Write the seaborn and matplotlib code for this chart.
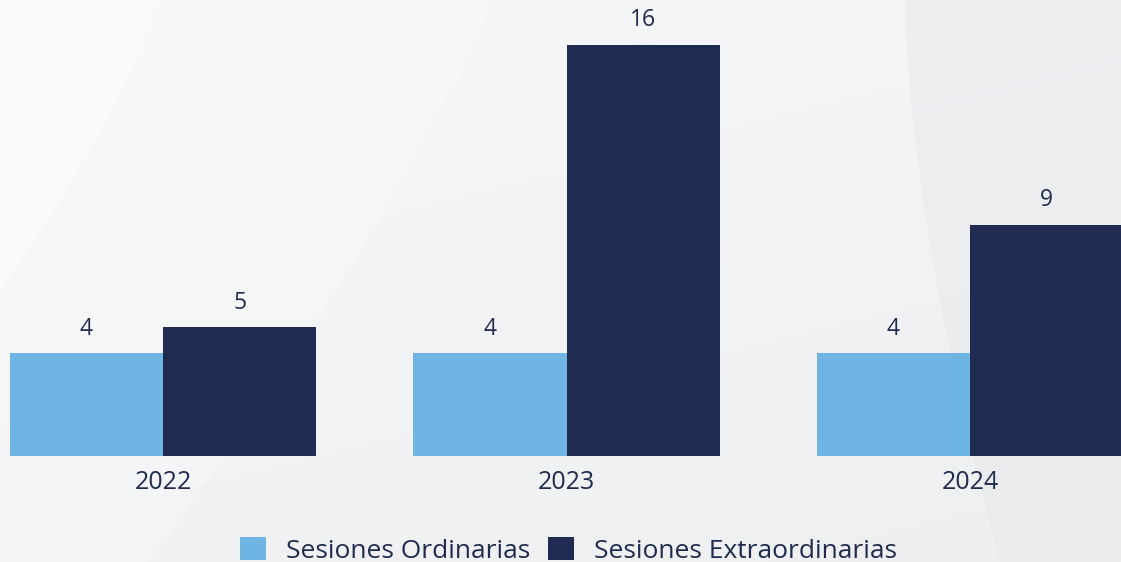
import numpy as np
import pandas as pd
import matplotlib
matplotlib.use("Agg")
import matplotlib.pyplot as plt
from matplotlib.patches import Patch, Polygon
import seaborn as sns

# Data
years = ["2022", "2023", "2024"]
ordinarias = [4, 4, 4]
extraordinarias = [5, 16, 9]
series_names = ["Sesiones Ordinarias", "Sesiones Extraordinarias"]
colors = ["#6fb5e3", "#1f2b50"]
text_color = "#1f2b4f"

df = pd.DataFrame({
    "year": years * 2,
    "value": ordinarias + extraordinarias,
    "serie": [series_names[0]] * 3 + [series_names[1]] * 3,
})

sns.set_theme(style="white")
plt.rcParams["font.family"] = ["Open Sans", "DejaVu Sans"]

W, H = 1121, 562
fig = plt.figure(figsize=(W / 100, H / 100), dpi=100)

# Soft grey background with pale diagonal swooshes
bg = fig.add_axes([0, 0, 1, 1], zorder=0)
bg.set_xlim(0, W)
bg.set_ylim(H, 0)
bg.axis("off")
yy, xx = np.mgrid[0:H, 0:W]
base = 0.955 - 0.02 * (yy / H) + 0.01 * (1 - xx / W)
bg.imshow(np.dstack([base, base + 0.003, base + 0.008]).clip(0, 1),
          extent=[0, W, H, 0], aspect="auto")
t = np.linspace(0, 1, 60)
# left pale band
left_edge = np.c_[155 - 160 * t ** 1.3, t * 300]
bg.add_patch(Polygon(np.vstack([[[0, 0]], left_edge]), closed=True,
                     facecolor="white", alpha=0.55, lw=0))
# central pale band
c_right = np.c_[490 - 340 * t ** 1.2, t * H]
c_left = np.c_[155 - 160 * t ** 1.3, t * 300][::-1]
bg.add_patch(Polygon(np.vstack([c_right, [[0, H]], [[0, 300]], c_left]),
                     closed=True, facecolor="white", alpha=0.25, lw=0))
# right-hand darker sweep
r_edge = np.c_[905 + 95 * t ** 1.6, t * H]
bg.add_patch(Polygon(np.vstack([r_edge, [[W, H], [W, 0]]]), closed=True,
                     facecolor="#e2e4e7", alpha=0.35, lw=0))
r_edge2 = np.c_[1270 - 150 * t ** 1.5, t * H]
bg.add_patch(Polygon(np.vstack([r_edge2, [[W + 200, H], [W + 200, 0]]]),
                     closed=True, facecolor="white", alpha=0.3, lw=0))

ax = fig.add_axes([0, 0, 1, 1], zorder=1)
ax.patch.set_alpha(0)
sns.barplot(data=df, x="year", y="value", hue="serie", palette=colors,
            saturation=1, width=0.76, dodge=True, gap=0, linewidth=0,
            legend=False, ax=ax)

ax.set_xlim(-0.404, 2.374)
ax.set_ylim(-4.13, 17.75)
ax.axis("off")

# value labels above bars
for container in ax.containers:
    ax.bar_label(container, labels=[f"{int(v)}" for v in container.datavalues],
                 padding=9, fontsize=16.5, color=text_color)

# year labels under each group
for i, yr in enumerate(years):
    ax.text(i, -1.02, yr, ha="center", va="center", fontsize=18, color=text_color)

handles = [Patch(facecolor=c, edgecolor="none", label=n) for c, n in zip(colors, series_names)]
fig.legend(handles=handles, loc="center", bbox_to_anchor=(0.507, 0.021), ncol=2,
           frameon=False, fontsize=19, labelcolor=text_color,
           handlelength=1.0, handleheight=1.0, handletextpad=0.75,
           columnspacing=0.65, borderaxespad=0)

fig.savefig("out.png", dpi=100)
